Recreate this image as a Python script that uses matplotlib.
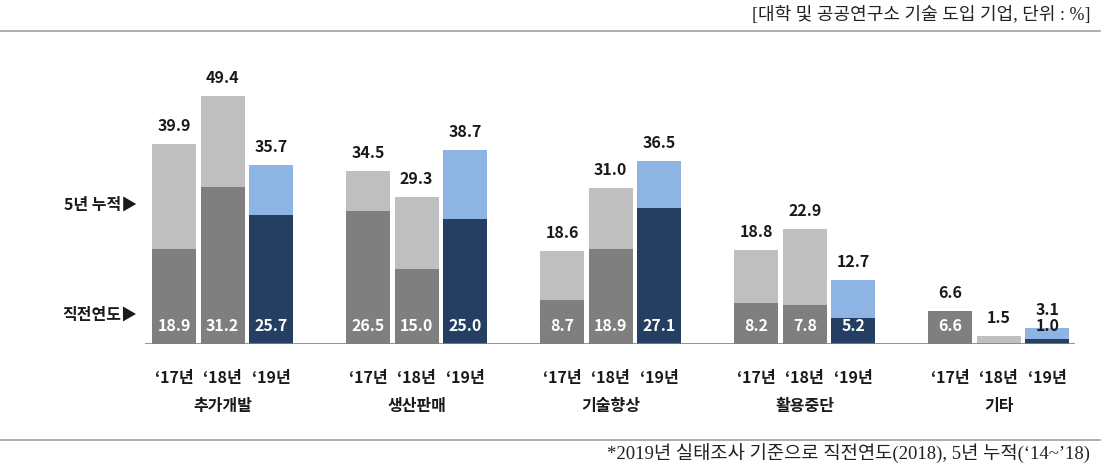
import matplotlib
matplotlib.use('Agg')
import matplotlib.pyplot as plt
import numpy as np

plt.rcParams['font.family'] = ['Noto Sans CJK KR', 'DejaVu Sans']

categories = ['추가개발', '생산판매', '기술향상', '활용중단', '기타']
years = ['‘17년', '‘18년', '‘19년']
# 5년 누적 (total bar height)
total = [[39.9, 49.4, 35.7],
         [34.5, 29.3, 38.7],
         [18.6, 31.0, 36.5],
         [18.8, 22.9, 12.7],
         [6.6, 1.5, 3.1]]
# 직전연도 (lower part)
prev = [[18.9, 31.2, 25.7],
        [26.5, 15.0, 25.0],
        [8.7, 18.9, 27.1],
        [8.2, 7.8, 5.2],
        [6.6, np.nan, 1.0]]

light = ['#BFBFBF', '#BFBFBF', '#8EB4E3']
dark = ['#7F7F7F', '#7F7F7F', '#243F62']

fig = plt.figure(figsize=(11.09, 4.70), dpi=100)
ax = fig.add_axes([145 / 1109, (470 - 344) / 470, 930 / 1109, 304 / 470])
ax.set_xlim(-1.6, 17.57)
ax.set_ylim(0, 304 / 5.02)

w = 44 / 48.5
for i, cat in enumerate(categories):
    for j in range(3):
        x = 4 * i + j - 1
        t = total[i][j]
        p = prev[i][j]
        ax.bar(x, t, width=w, color=light[j], zorder=2)
        if not np.isnan(p):
            ax.bar(x, p, width=w, color=dark[j], zorder=3)
            col = 'white' if p > 3 else '#1a1a1a'
            ax.text(x, 3.6, f'{p:.1f}', ha='center', va='center', color=col,
                    fontsize=11.5, fontweight='bold', zorder=4)
        ax.annotate(f'{t:.1f}', (x, t), xytext=(0, 13), textcoords='offset points',
                    ha='center', va='center', fontsize=11.5, fontweight='bold', color='#1a1a1a')
        ax.text(x, -6.8, years[j], ha='center', va='center', fontsize=11.5,
                fontweight='bold', color='#1a1a1a')
    ax.text(4 * i, -12.4, cat, ha='center', va='center', fontsize=11.5,
            fontweight='bold', color='#1a1a1a')

ax.axhline(0, color='#808080', lw=1.2, zorder=5)
for s in ax.spines.values():
    s.set_visible(False)
ax.set_xticks([])
ax.set_yticks([])

fig.text(137 / 1109, 1 - 205 / 470, '5년 누적▶', ha='right', va='center',
         fontsize=11.5, fontweight='bold', color='#1a1a1a')
fig.text(137 / 1109, 1 - 315 / 470, '직전연도▶', ha='right', va='center',
         fontsize=11.5, fontweight='bold', color='#1a1a1a')

serif = ['Liberation Serif', 'Noto Sans CJK KR']
fig.text(1090 / 1109, 1 - 15 / 470, '[대학 및 공공연구소 기술 도입 기업, 단위 : %]',
         ha='right', va='center', fontsize=13, color='#222222', family=serif)
fig.text(1090 / 1109, 1 - 454 / 470, '*2019년 실태조사 기준으로 직전연도(2018), 5년 누적(‘14~’18)',
         ha='right', va='center', fontsize=13.5, color='#222222', family=serif)

fig.add_artist(plt.Line2D([0, 1100 / 1109], [1 - 31 / 470] * 2, color='#A0A0A0', lw=1.2))
fig.add_artist(plt.Line2D([0, 1100 / 1109], [1 - 440 / 470] * 2, color='#A0A0A0', lw=1.2))

fig.savefig('out.png', dpi=100)
